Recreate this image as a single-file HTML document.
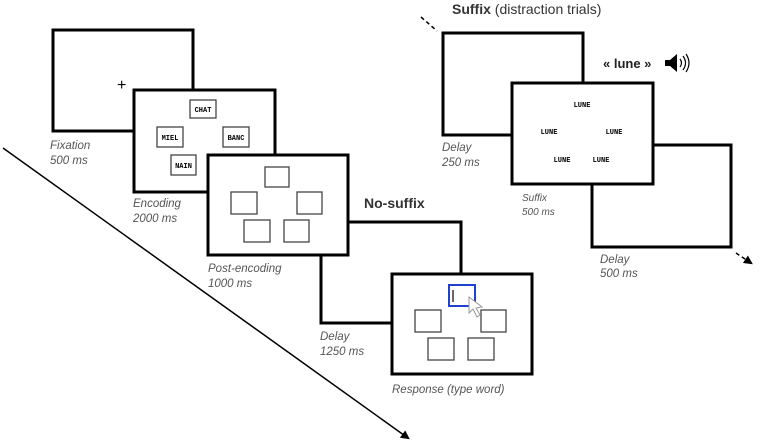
<!DOCTYPE html>
<html><head><style>body{margin:0;background:#fff}svg{display:block}</style></head><body>
<svg width="760" height="446" viewBox="0 0 760 446" xmlns="http://www.w3.org/2000/svg" font-family="Liberation Sans, sans-serif">
<defs><marker id="ah" markerWidth="6" markerHeight="6" refX="4.5" refY="3" orient="auto"><path d="M0,0 L6,3 L0,6 z" fill="#000"/></marker></defs>
<line x1="3" y1="148" x2="408" y2="438" stroke="#000" stroke-width="1.5" marker-end="url(#ah)"/>
<g fill="#fff" stroke="#000" stroke-width="3">
<rect x="53" y="30" width="140" height="101"/>
<rect x="134" y="90" width="141" height="102"/>
<rect x="321" y="222" width="140" height="101"/>
<rect x="208" y="155" width="140" height="100"/>
<rect x="392" y="274" width="140" height="100"/>
<rect x="443" y="33" width="140" height="102"/>
<rect x="592" y="145" width="139" height="102"/>
<rect x="512" y="83" width="141" height="101"/>
</g>
<text x="117" y="90" font-size="16">+</text>
<g fill="#fff" stroke="#444" stroke-width="1.3">
<rect x="190" y="100" width="26" height="18"/><rect x="157" y="127" width="26" height="20"/><rect x="223" y="127" width="26" height="20"/><rect x="171" y="155" width="25" height="20"/>
<rect x="265" y="167" width="24" height="20"/><rect x="231" y="192" width="26" height="22"/><rect x="297" y="192" width="25" height="22"/><rect x="244" y="220" width="26" height="22"/><rect x="284" y="220" width="25" height="22"/>
<rect x="415" y="310" width="26" height="22"/><rect x="481" y="310" width="25" height="22"/><rect x="428" y="338" width="26" height="22"/><rect x="468" y="338" width="26" height="22"/>
</g>
<rect x="449" y="285" width="26" height="21" fill="#fff" stroke="#2040d0" stroke-width="2"/>
<line x1="453" y1="290" x2="453" y2="302" stroke="#333" stroke-width="1.5"/>
<path d="M469,297 L469,313 L473,309 L477,317 L480,315 L476,308 L482,307 z" fill="#fff" stroke="#999" stroke-width="1"/>
<g font-family="Liberation Mono, monospace" font-size="7" font-weight="bold" text-anchor="middle">
<text x="203" y="112">CHAT</text><text x="170" y="140">MIEL</text><text x="236" y="140">BANC</text><text x="183.5" y="168">NAIN</text>
<text x="582" y="107">LUNE</text><text x="549" y="134">LUNE</text><text x="614" y="134">LUNE</text><text x="562" y="162">LUNE</text><text x="601" y="162">LUNE</text>
</g>
<g font-style="italic" fill="#555" font-size="11.5">
<text x="50" y="149">Fixation</text><text x="50" y="164">500 ms</text>
<text x="133" y="207">Encoding</text><text x="133" y="222">2000 ms</text>
<text x="208" y="272">Post-encoding</text><text x="208" y="287">1000 ms</text>
<text x="320" y="340">Delay</text><text x="320" y="355">1250 ms</text>
<text x="392" y="393">Response (type word)</text>
<text x="442" y="151">Delay</text><text x="442" y="166">250 ms</text>
<text x="600" y="263">Delay</text><text x="600" y="277">500 ms</text>
<text x="522" y="201" font-size="10">Suffix</text><text x="522" y="215" font-size="10">500 ms</text>
</g>
<text x="364" y="208" font-size="14" font-weight="bold" fill="#333">No-suffix</text>
<text x="452" y="14" font-size="14" fill="#333"><tspan font-weight="bold">Suffix</tspan> (distraction trials)</text>
<text x="603" y="68" font-size="13" font-weight="bold" fill="#222">« lune »</text>
<path d="M665,60 L670,60 L677,54 L677,72 L670,66 L665,66 z" fill="#000"/>
<path d="M680,59 Q683,63 680,67 M683,56 Q688,63 683,70 M686,54 Q692,63 686,72" fill="none" stroke="#000" stroke-width="1.2"/>
<line x1="421" y1="17" x2="437" y2="31" stroke="#000" stroke-width="1.5" stroke-dasharray="4,3"/>
<line x1="736" y1="253" x2="751" y2="263" stroke="#000" stroke-width="1.5" stroke-dasharray="4,3" marker-end="url(#ah)"/>
</svg>
</body></html>
